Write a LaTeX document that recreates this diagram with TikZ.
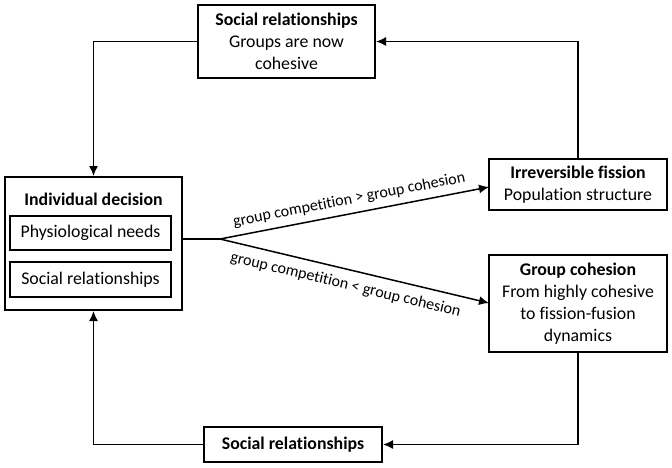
\documentclass[tikz,border=0pt]{standalone}
\usepackage{fontspec}
\setmainfont{Carlito}[Ligatures={NoCommon}]
\usetikzlibrary{arrows.meta}
\begin{document}
\begin{tikzpicture}[x=1pt,y=-1pt,
  box/.style={draw,line width=2pt,fill=white,align=center,inner sep=0pt,
    font=\fontsize{17.8}{22}\selectfont},
  conn/.style={line width=1.5pt},
  arr/.style={conn,-{Latex[length=10pt,width=9pt]}},
  lab/.style={font=\fontsize{16}{18}\selectfont,sloped,inner sep=2pt}]
\useasboundingbox (0,0) rectangle (672,467);
\node[box,minimum width=177,minimum height=73] (top) at (286.5,41.5)
  {\textbf{Social relationships}\\Groups are now\\cohesive};
\node[box,minimum width=177,minimum height=133] (ind) at (93.5,243.5) {};
\node[font=\fontsize{17.8}{22}\selectfont\bfseries] (indt) at (93.5,199) {Individual decision};
\node[box,line width=1.7pt,minimum width=161,minimum height=34] (phys) at (90.5,233) {Physiological needs};
\node[box,line width=1.7pt,minimum width=161,minimum height=35] (socr) at (90.5,279.5) {Social relationships};
\node[box,minimum width=178,minimum height=51] (fis) at (578,184.5)
  {\textbf{Irreversible fission}\\Population structure};
\node[box,minimum width=178,minimum height=97] (coh) at (578,303.5)
  {\textbf{Group cohesion}\\From highly cohesive\\to fission-fusion\\dynamics};
\node[box,minimum width=178,minimum height=35] (bot) at (293,444.5)
  {\textbf{Social relationships}};
\coordinate (br) at (220,239);
\coordinate (fin) at (489,187);
\coordinate (cin) at (489,303);
\draw[conn] (ind.east |- br) -- (br);
\draw[arr] (br) -- node[lab,above,pos=0.49,yshift=4pt] {group competition > group cohesion} (fin);
\draw[arr] (br) -- node[lab,below,pos=0.48,yshift=-6pt] {group competition < group cohesion} (cin);
\draw[arr] (fis.north) |- (top.east);
\draw[arr] (top.west) -| (ind.north);
\draw[arr] (coh.south) |- (bot.east);
\draw[arr] (bot.west) -| (ind.south);
\end{tikzpicture}
\end{document}
